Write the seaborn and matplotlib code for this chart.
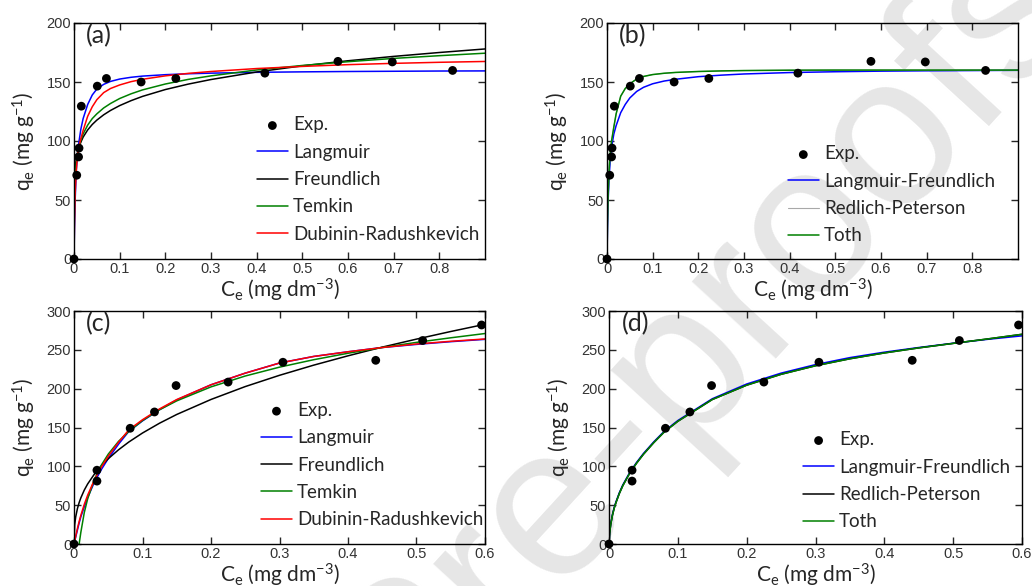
import numpy as np
import matplotlib
matplotlib.use("Agg")
import matplotlib.pyplot as plt
import seaborn as sns

nan = np.nan

# experimental points, (a) and (b)
ce_ab = [0, 0.006, 0.010, 0.011, 0.016, 0.051, 0.071, 0.147, 0.223, 0.418, 0.578, 0.697, 0.829]
qe_ab = [0, 71, 86.5, 94, 129.5, 146.5, 153, 150, 153, 157.5, 167.5, 167, 159.8]

# experimental points, (c) and (d)
ce_cd = [0, 0.0335, 0.0335, 0.082, 0.1175, 0.149, 0.225, 0.305, 0.4405, 0.509, 0.595]
qe_cd = [0, 81, 95, 149, 170, 204, 208.5, 234, 236.5, 262, 282]

# model curves
c_ab = [0, 0.001, 0.0025, 0.005, 0.0075, 0.01, 0.015, 0.02, 0.03, 0.04, 0.05, 0.065, 0.08,
        0.1, 0.125, 0.15, 0.2, 0.25, 0.3, 0.4, 0.5, 0.6, 0.7, 0.8, 0.9]
langmuir_a = [0, 25, 50, 75, 88, 97, 110, 119, 131, 139, 144, 148, 150.5,
              152.5, 154, 155, 156.2, 157, 157.5, 158.2, 158.6, 158.9, 159.1, 159.3, 159.4]
freundlich_a = [0, 67, 77, 85, 90, 93.6, 99, 103.3, 109.4, 114, 117.7, 122.2, 125.9,
                130, 134.2, 137.8, 143.6, 148.2, 152.1, 158.5, 163.7, 168, 171.7, 175, 178]
temkin_a = [0, 52, 68.5, 81, 88, 93.5, 100.7, 106, 113.5, 119, 123, 128, 131.8,
            136, 140, 143.3, 148.3, 152.2, 155.2, 160.2, 164, 167.2, 170, 172.3, 174.4]
dr_a = [0, 30, 55, 75, 87, 94, 102, 109, 121, 129, 135, 141, 144.5,
        147.5, 150.3, 152.3, 155.2, 157.3, 158.9, 161.4, 163.2, 164.7, 165.8, 166.7, 167.4]

lf_b = [0, 25, 50, 72, 86, 95, 106, 113, 124, 131, 136.5, 142, 145.5,
        148.5, 150.8, 152.3, 154.5, 155.8, 156.8, 158, 158.7, 159.2, 159.5, 159.7, 159.9]
rp_b = [0, 30, 55, 78, 92, 100, 112, 123, 138, 144.5, 148.5, 152.5, 154.7,
        156.3, 157.4, 158.1, 158.9, 159.4, 159.7, 160, 160.1, 160.1, 160.1, 160.1, 160.1]
toth_b = [0, 30, 55, 78, 92, 100, 112, 123, 138, 144.5, 148.5, 152.5, 154.7,
          156.3, 157.4, 158.1, 158.9, 159.4, 159.7, 160, 160.1, 160.1, 160.1, 160.1, 160.1]

c_cd = [0, 0.001, 0.0025, 0.005, 0.0075, 0.01, 0.015, 0.02, 0.03, 0.04, 0.05, 0.065, 0.08,
        0.1, 0.125, 0.15, 0.2, 0.25, 0.3, 0.35, 0.4, 0.45, 0.5, 0.55, 0.6]
langmuir_c = [0, 3.5, 9, 18, 27, 35, 48, 60, 80, 96, 110, 128.5, 145,
              158.5, 173, 185.5, 205, 220, 233, 241.5, 247.5, 253, 257, 260.5, 263.5]
freundlich_c = [0, 24.7, 35, 45.6, 53.3, 59.4, 69.4, 77.4, 90.3, 100.8, 109.8, 121.3, 131.3,
                142.9, 155.6, 166.8, 186.1, 202.7, 217.2, 230.3, 242.3, 253.5, 263.8, 273.6, 282.9]
temkin_c = [nan, nan, nan, nan, 0, 15.1, 40.4, 58.4, 83.7, 101.7, 115.7, 132.1, 145,
            159, 172.9, 184.3, 202.3, 216.3, 227.7, 237.3, 245.6, 253, 259.6, 265.5, 271]
dr_c = [0, 4, 10, 20, 29, 37, 51, 63, 83, 99, 113, 131, 147,
        160, 174, 186, 205, 220, 233, 241.5, 247.5, 253, 257.5, 261, 264]

lf_d = [0, 15, 26, 38, 47, 54, 66, 76, 92, 105, 116.5, 131.5, 145,
        159, 173, 187, 206, 220, 231, 240, 247, 253, 258.5, 263.5, 268]
rp_d = [0, 14, 25, 37, 46, 53, 65, 75, 91, 104, 115.5, 130.5, 144,
        158, 172, 186, 204.5, 218.5, 229.5, 238.5, 246, 252.5, 258.3, 264, 270]
toth_d = [0, 14, 25, 37, 46, 53, 65, 75, 91, 104, 115.5, 130.5, 144,
          158, 172, 186, 204.5, 218.5, 229.5, 238.5, 246, 252.5, 258.3, 264, 270]

sns.set_theme(style="ticks")
plt.rcParams["font.family"] = ["Lato", "DejaVu Sans"]
plt.rcParams["mathtext.fontset"] = "custom"
plt.rcParams["mathtext.rm"] = "Lato"
plt.rcParams["mathtext.it"] = "Lato:italic"
plt.rcParams["axes.edgecolor"] = "black"
plt.rcParams["axes.linewidth"] = 1.0

fig = plt.figure(figsize=(10.32, 5.86), dpi=100)

# faint watermark behind the panels
fig.text(1.056, 0.973, "Journal Pre-proofs", rotation=47.5, rotation_mode="anchor",
         ha="right", va="baseline", fontsize=155, color="#e6e6e6",
         family="Liberation Sans", zorder=-5)

boxes = {
    "a": [74 / 1032, 1 - 259 / 586, 411 / 1032, 236 / 586],
    "b": [607 / 1032, 1 - 259 / 586, 411 / 1032, 236 / 586],
    "c": [74 / 1032, 1 - 544 / 586, 411 / 1032, 233 / 586],
    "d": [609 / 1032, 1 - 544 / 586, 413 / 1032, 233 / 586],
}

panels = {
    "a": (ce_ab, qe_ab, c_ab, [("Langmuir", langmuir_a, "#0000ff", 1.1),
                                ("Freundlich", freundlich_a, "black", 1.1),
                                ("Temkin", temkin_a, "#008000", 1.1),
                                ("Dubinin-Radushkevich", dr_a, "#ff0000", 1.1)],
          (0.9, 200), np.arange(0, 0.85, 0.1), (0.445, 0.604)),
    "b": (ce_ab, qe_ab, c_ab, [("Langmuir-Freundlich", lf_b, "#0000ff", 1.1),
                                ("Redlich-Peterson", rp_b, "#a8a8a8", 0.8),
                                ("Toth", toth_b, "#008000", 1.1)],
          (0.9, 200), np.arange(0, 0.85, 0.1), (0.440, 0.481)),
    "c": (ce_cd, qe_cd, c_cd, [("Langmuir", langmuir_c, "#0000ff", 1.1),
                                ("Freundlich", freundlich_c, "black", 1.1),
                                ("Temkin", temkin_c, "#008000", 1.1),
                                ("Dubinin-Radushkevich", dr_c, "#ff0000", 1.1)],
          (0.6, 300), np.arange(0, 0.65, 0.1), (0.455, 0.609)),
    "d": (ce_cd, qe_cd, c_cd, [("Langmuir-Freundlich", lf_d, "#0000ff", 1.1),
                                ("Redlich-Peterson", rp_d, "black", 1.1),
                                ("Toth", toth_d, "#008000", 1.1)],
          (0.6, 300), np.arange(0, 0.65, 0.1), (0.470, 0.483)),
}

for key, (ce, qe, cgrid, models, (xmax, ymax), xticks, legpos) in panels.items():
    ax = fig.add_axes(boxes[key])
    ax.set_facecolor("none")

    for name, vals, col, lw in models:
        sns.lineplot(x=cgrid, y=vals, ax=ax, color=col, linewidth=lw, label=name)
    sns.scatterplot(x=ce, y=qe, ax=ax, color="black", s=40, edgecolor="none",
                    label="Exp.", zorder=5, clip_on=False)

    ax.set_xlim(0, xmax)
    ax.set_ylim(0, ymax)
    ax.set_xticks(xticks)
    ax.set_xticklabels(["0"] + [f"{t:.1f}" for t in xticks[1:]])
    ax.set_yticks(np.arange(0, ymax + 1, 50))
    ax.tick_params(direction="in", length=5, width=1, top=True, right=True,
                   labelsize=10.5, labelcolor="#333333", pad=2)
    for lab in ax.get_xticklabels() + ax.get_yticklabels():
        lab.set_family("Liberation Sans")
    for sp in ax.spines.values():
        sp.set_visible(True)
        sp.set_color("black")

    ax.set_xlabel(r"C$_\mathrm{e}$ (mg dm$^{\mathrm{-3}}$)", fontsize=15, labelpad=1)
    ax.set_ylabel(r"q$_\mathrm{e}$ (mg g$^{\mathrm{-1}}$)", fontsize=15, labelpad=6)
    ax.text(0.03, 0.995, f"({key})", transform=ax.transAxes, fontsize=18,
            va="top", ha="left")

    handles, labels = ax.get_legend_handles_labels()
    order = [labels.index("Exp.")] + [i for i, l in enumerate(labels) if l != "Exp."]
    ax.legend([handles[i] for i in order], [labels[i] for i in order],
              loc="upper left", bbox_to_anchor=legpos, frameon=False, fontsize=13.5,
              borderpad=0, borderaxespad=0, handlelength=1.65, handletextpad=0.27,
              labelspacing=0.55, scatterpoints=1)

fig.savefig("out.png", dpi=100)
